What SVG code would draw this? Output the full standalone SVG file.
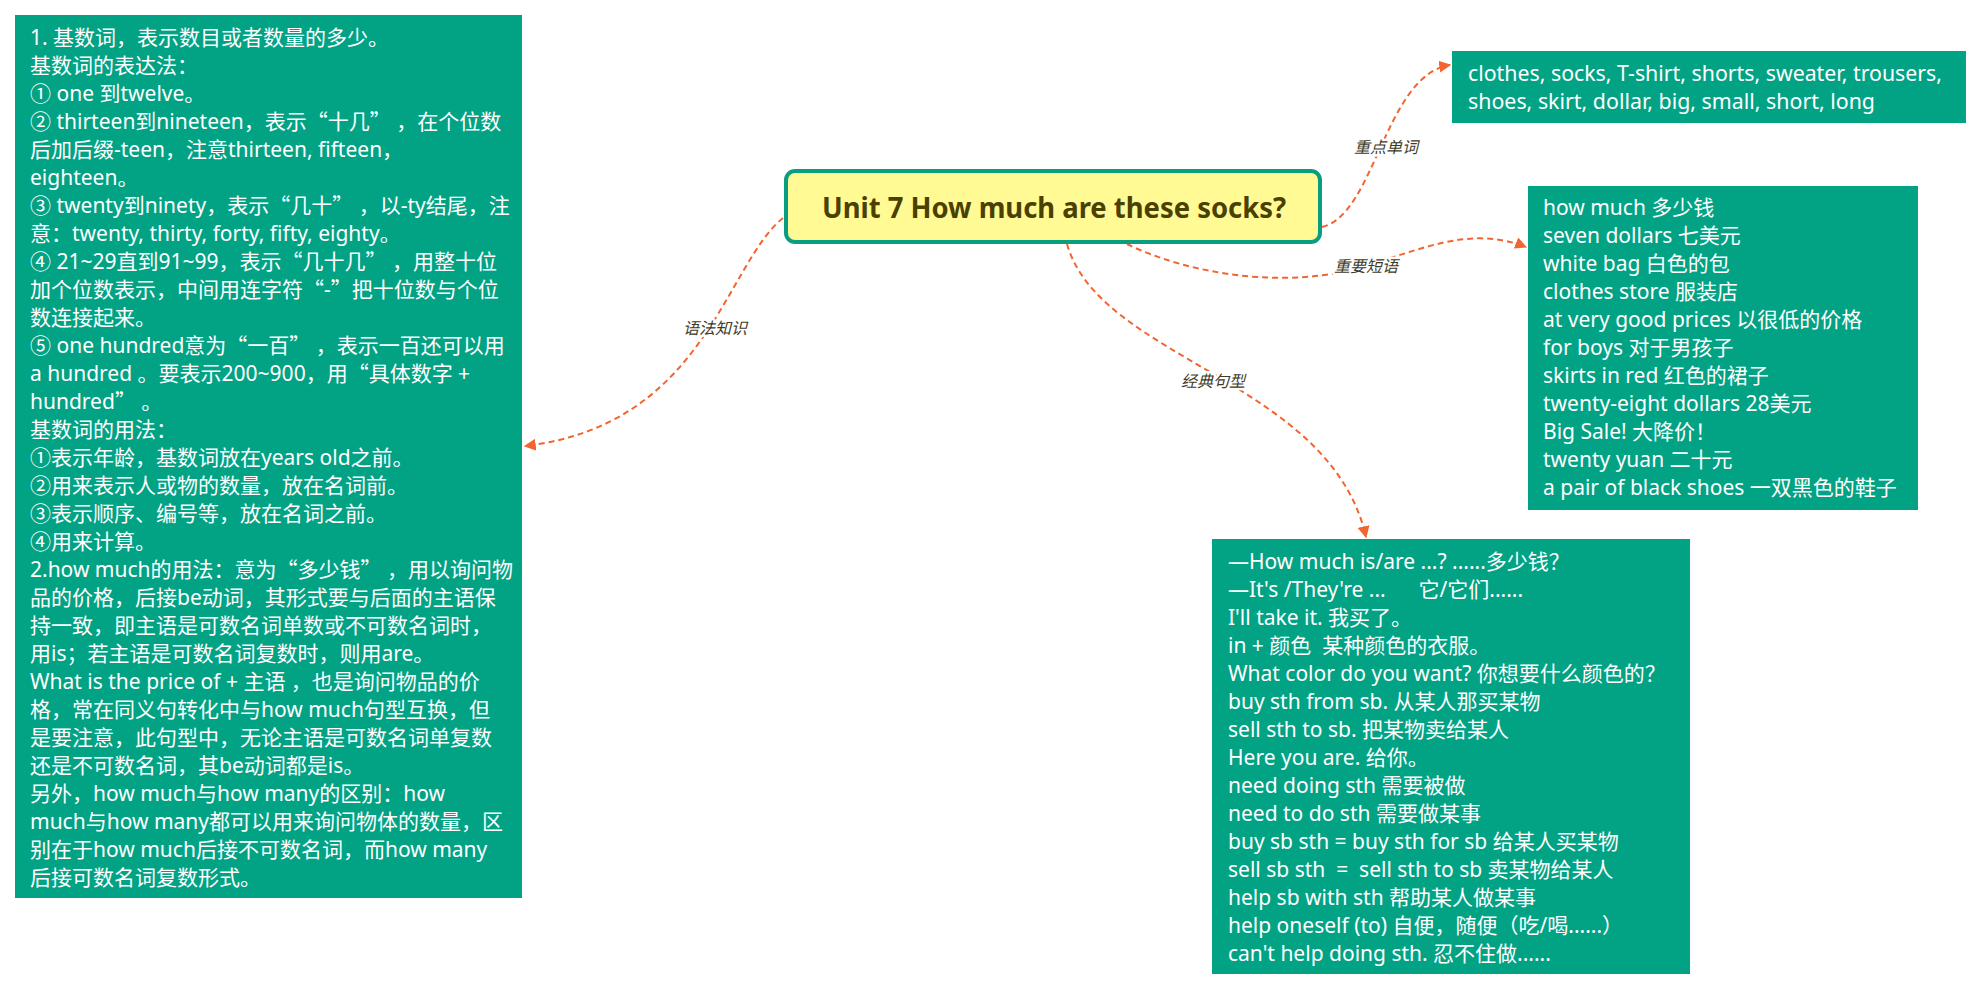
<svg xmlns="http://www.w3.org/2000/svg" width="1983" height="991" viewBox="0 0 1983 991">
<style>
.box{fill:#02A385;}
.t{font-family:'Noto Sans','Noto Sans CJK SC',sans-serif;font-size:21px;fill:#ffffff;white-space:pre;}
.q{font-family:'Noto Sans CJK SC',sans-serif;font-feature-settings:"fwid" 1;}
.title{font-family:'Noto Sans','Noto Sans CJK SC',sans-serif;font-size:29px;font-weight:bold;fill:#4A4100;}
.conn{fill:none;stroke:#F26430;stroke-width:2;stroke-dasharray:6 4;}
.lbl{font-family:'Noto Sans CJK SC','Noto Sans',sans-serif;font-size:16px;font-style:italic;fill:#3d3b26;stroke:#ffffff;stroke-width:5;paint-order:stroke;stroke-linejoin:round;}
</style>
<defs>
<marker id="arr" viewBox="0 0 10 10" refX="9" refY="5" markerWidth="12" markerHeight="12" markerUnits="userSpaceOnUse" orient="auto">
<path d="M0,0 L10,5 L0,10 z" fill="#F26430"/>
</marker>
</defs>
<rect width="1983" height="991" fill="#ffffff"/>

<g id="connectors">
<path class="conn" d="M783 218 C 725 265, 705 425, 525 446" marker-end="url(#arr)"/>
<path class="conn" d="M1322 227 C 1375 215, 1385 75, 1450 65" marker-end="url(#arr)"/>
<path class="conn" d="M1127 244 C 1190 275, 1290 290, 1365 266 C 1420 250, 1470 225, 1526 247" marker-end="url(#arr)"/>
<path class="conn" d="M1067 244 C 1100 360, 1330 380, 1366 537" marker-end="url(#arr)"/>
<text class="lbl" x="715" y="334" text-anchor="middle">语法知识</text>
<text class="lbl" x="1386" y="153" text-anchor="middle">重点单词</text>
<text class="lbl" x="1366" y="272" text-anchor="middle">重要短语</text>
<text class="lbl" x="1213" y="387" text-anchor="middle">经典句型</text>
</g>

<g id="central">
<rect x="786" y="171" width="534" height="71" rx="9" ry="9" fill="#FFFA94" stroke="#0A9E80" stroke-width="4"/>
<text class="title" x="1054" y="218" text-anchor="middle" textLength="464" lengthAdjust="spacingAndGlyphs">Unit 7 How much are these socks?</text>
</g>

<g id="grammar">
<rect class="box" x="15" y="15" width="507" height="883"/>
<text class="t" x="30" y="45">1. 基数词，表示数目或者数量的多少。</text>
<text class="t" x="30" y="73">基数词的表达法：</text>
<text class="t" x="30" y="101">① one 到twelve。</text>
<text class="t" x="30" y="129">② thirteen到nineteen，表示<tspan class="q">“</tspan>十几<tspan class="q">”</tspan> ，在个位数</text>
<text class="t" x="30" y="157">后加后缀-teen，注意thirteen, fifteen，</text>
<text class="t" x="30" y="185">eighteen。</text>
<text class="t" x="30" y="213">③ twenty到ninety，表示<tspan class="q">“</tspan>几十<tspan class="q">”</tspan> ，以-ty结尾，注</text>
<text class="t" x="30" y="241">意：twenty, thirty, forty, fifty, eighty。</text>
<text class="t" x="30" y="269">④ 21~29直到91~99，表示<tspan class="q">“</tspan>几十几<tspan class="q">”</tspan> ，用整十位</text>
<text class="t" x="30" y="297">加个位数表示，中间用连字符<tspan class="q">“</tspan>-<tspan class="q">”</tspan>把十位数与个位</text>
<text class="t" x="30" y="325">数连接起来。</text>
<text class="t" x="30" y="353">⑤ one hundred意为<tspan class="q">“</tspan>一百<tspan class="q">”</tspan> ，表示一百还可以用</text>
<text class="t" x="30" y="381">a hundred 。要表示200~900，用<tspan class="q">“</tspan>具体数字 +</text>
<text class="t" x="30" y="409">hundred<tspan class="q">”</tspan> 。</text>
<text class="t" x="30" y="437">基数词的用法：</text>
<text class="t" x="30" y="465">①表示年龄，基数词放在years old之前。</text>
<text class="t" x="30" y="493">②用来表示人或物的数量，放在名词前。</text>
<text class="t" x="30" y="521">③表示顺序、编号等，放在名词之前。</text>
<text class="t" x="30" y="549">④用来计算。</text>
<text class="t" x="30" y="577">2.how much的用法：意为<tspan class="q">“</tspan>多少钱<tspan class="q">”</tspan> ，用以询问物</text>
<text class="t" x="30" y="605">品的价格，后接be动词，其形式要与后面的主语保</text>
<text class="t" x="30" y="633">持一致，即主语是可数名词单数或不可数名词时，</text>
<text class="t" x="30" y="661">用is；若主语是可数名词复数时，则用are。</text>
<text class="t" x="30" y="689">What is the price of + 主语 ，也是询问物品的价</text>
<text class="t" x="30" y="717">格，常在同义句转化中与how much句型互换，但</text>
<text class="t" x="30" y="745">是要注意，此句型中，无论主语是可数名词单复数</text>
<text class="t" x="30" y="773">还是不可数名词，其be动词都是is。</text>
<text class="t" x="30" y="801">另外，how much与how many的区别：how</text>
<text class="t" x="30" y="829">much与how many都可以用来询问物体的数量，区</text>
<text class="t" x="30" y="857">别在于how much后接不可数名词，而how many</text>
<text class="t" x="30" y="885">后接可数名词复数形式。</text>
</g>

<g id="words">
<rect class="box" x="1452" y="51" width="514" height="72"/>
<text class="t" x="1468" y="81" textLength="474" lengthAdjust="spacingAndGlyphs">clothes, socks, T-shirt, shorts, sweater, trousers,</text>
<text class="t" x="1468" y="109" textLength="407" lengthAdjust="spacingAndGlyphs">shoes, skirt, dollar, big, small, short, long</text>
</g>

<g id="phrases">
<rect class="box" x="1528" y="186" width="390" height="324"/>
<text class="t" x="1543" y="215">how much 多少钱</text>
<text class="t" x="1543" y="243">seven dollars 七美元</text>
<text class="t" x="1543" y="271">white bag 白色的包</text>
<text class="t" x="1543" y="299">clothes store 服装店</text>
<text class="t" x="1543" y="327">at very good prices 以很低的价格</text>
<text class="t" x="1543" y="355">for boys 对于男孩子</text>
<text class="t" x="1543" y="383">skirts in red 红色的裙子</text>
<text class="t" x="1543" y="411">twenty-eight dollars 28美元</text>
<text class="t" x="1543" y="439">Big Sale! 大降价！</text>
<text class="t" x="1543" y="467">twenty yuan 二十元</text>
<text class="t" x="1543" y="495">a pair of black shoes 一双黑色的鞋子</text>
</g>

<g id="sentences">
<rect class="box" x="1212" y="539" width="478" height="435"/>
<text class="t" x="1228" y="569">—How much is/are ...? ......多少钱？</text>
<text class="t" x="1228" y="597">—It's /They're ...      它/它们......</text>
<text class="t" x="1228" y="625">I'll take it. 我买了。</text>
<text class="t" x="1228" y="653">in + 颜色  某种颜色的衣服。</text>
<text class="t" x="1228" y="681">What color do you want? 你想要什么颜色的？</text>
<text class="t" x="1228" y="709">buy sth from sb. 从某人那买某物</text>
<text class="t" x="1228" y="737">sell sth to sb. 把某物卖给某人</text>
<text class="t" x="1228" y="765">Here you are. 给你。</text>
<text class="t" x="1228" y="793">need doing sth 需要被做</text>
<text class="t" x="1228" y="821">need to do sth 需要做某事</text>
<text class="t" x="1228" y="849">buy sb sth = buy sth for sb 给某人买某物</text>
<text class="t" x="1228" y="877">sell sb sth  =  sell sth to sb 卖某物给某人</text>
<text class="t" x="1228" y="905">help sb with sth 帮助某人做某事</text>
<text class="t" x="1228" y="933">help oneself (to) 自便，随便（吃/喝......）</text>
<text class="t" x="1228" y="961">can't help doing sth. 忍不住做......</text>
</g>
</svg>
